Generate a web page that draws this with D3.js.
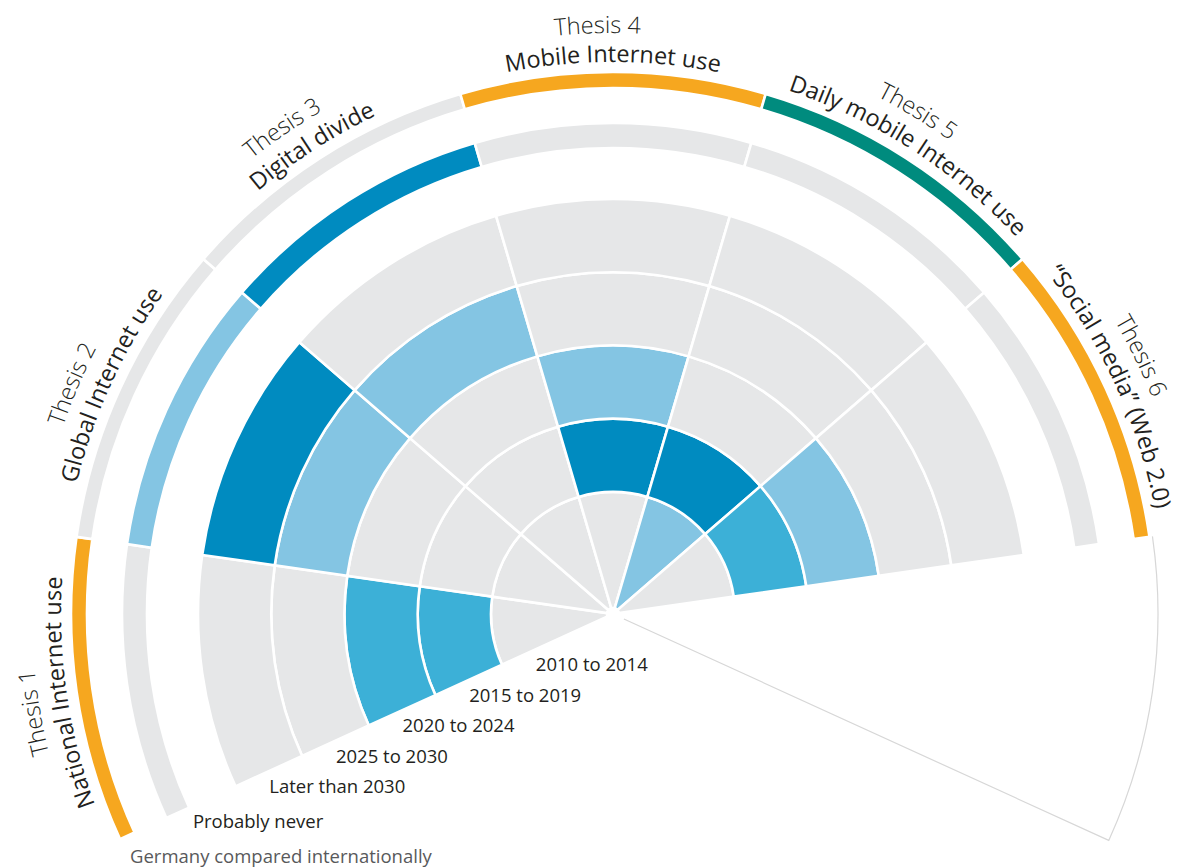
<!DOCTYPE html>
<html><head><meta charset="utf-8">
<script src="https://cdn.jsdelivr.net/npm/d3@7"></script>
<style>
html,body{margin:0;padding:0;background:#fff;}
svg{display:block;}
text{font-family:"Open Sans","Noto Sans",sans-serif;}
</style></head><body>
<svg id="chart" width="1189" height="868"></svg>
<script>
// ---------- data ----------
const thesisNames = ["Thesis 1","Thesis 2","Thesis 3","Thesis 4","Thesis 5","Thesis 6"];
const thesisTitles = ["National Internet use","Global Internet use","Digital divide","Mobile Internet use","Daily mobile Internet use","\u201cSocial media\u201d (Web 2.0)"];
const periods = ["2010 to 2014","2015 to 2019","2020 to 2024","2025 to 2030","Later than 2030","Probably never"];
// expert agreement level per period: 0 = none, 1 = low, 2 = medium, 3 = high
const thesis1 = [0,2,2,0,0,0];
const thesis2 = [0,0,0,1,3,1];
const thesis3 = [0,0,0,1,0,3];
const thesis4 = [0,3,1,0,0,0];
const thesis5 = [1,3,0,0,0,0];
const thesis6 = [0,2,1,0,0,0];
const levels = [thesis1,thesis2,thesis3,thesis4,thesis5,thesis6];
// Germany compared internationally: 0 = not rated, 1 = category A, 2 = category B
const germanyComparison = [1,0,0,1,2,1];
const footnote = "Germany compared internationally";

// ---------- layout ----------
const W = 1189, H = 868;
const cx = 613, cy = 614;
const svg = d3.select("#chart");
const g = svg.append("g").attr("transform", `translate(${cx},${cy})`);

const sector = 2*Math.PI/11;
const a0 = -3.5*sector;
const angle = d3.scaleBand().domain(d3.range(7)).range([a0, a0 + 7*sector]).paddingInner(0).paddingOuter(0);

const rRing = d3.scaleLinear().domain([1,5]).range([122,415]);
function ringInner(k){ return k===0 ? 6 : (k<5 ? rRing(k) : 466); }
function ringOuter(k){ return k<5 ? rRing(k+1) : 491; }
const bandR0 = 526, bandR1 = 542;
const titleR = 552, thesisR = 581, outlineR = 545;

const levelColor = d3.scaleOrdinal().domain([0,1,2,3]).range(["#e6e7e8","#84c5e3","#3cb0d7","#008bc0"]);
const germanyColor = d3.scaleOrdinal().domain([0,1,2]).range(["#e6e7e8","#f6a71f","#008b7e"]);

const arc = d3.arc()
  .innerRadius(d=>d.r0).outerRadius(d=>d.r1)
  .startAngle(d=>d.s).endAngle(d=>d.e);

// cells
const cells = [];
levels.forEach((arr,i)=>{
  arr.forEach((v,k)=>{
    cells.push({s:angle(i), e:angle(i)+angle.bandwidth(), r0:ringInner(k), r1:ringOuter(k), v});
  });
});
g.append("g").selectAll("path").data(cells).join("path")
  .attr("d", arc)
  .attr("fill", d=>levelColor(d.v))
  .attr("stroke","#fff").attr("stroke-width",2.6);

// Germany comparison band
g.append("g").selectAll("path").data(germanyComparison).join("path")
  .attr("d",(v,i)=>arc({s:angle(i), e:angle(i)+angle.bandwidth(), r0:bandR0, r1:bandR1}))
  .attr("fill", v=>germanyColor(v))
  .attr("stroke","#fff").attr("stroke-width",2.6);

// empty seventh sector outline
function pt(a,r){ return [r*Math.sin(a), -r*Math.cos(a)]; }
{
  const s = angle(6), e = angle(6)+angle.bandwidth();
  const p = d3.path();
  const p1 = pt(s,outlineR), p2 = pt(e,outlineR), p3 = pt(e,12);
  p.moveTo(p1[0],p1[1]);
  p.arc(0,0,outlineR, s-Math.PI/2, e-Math.PI/2, false);
  p.lineTo(p3[0],p3[1]);
  g.append("path").attr("d",p.toString()).attr("fill","none")
    .attr("stroke","#d7d7d7").attr("stroke-width",1.2);
}

// curved labels
const defs = svg.append("defs");
function arcPathD(c, r, span){
  const s = c - span, e = c + span;
  const p1 = pt(s,r), p2 = pt(e,r);
  return `M${p1[0]+cx},${p1[1]+cy} A${r},${r} 0 0 1 ${p2[0]+cx},${p2[1]+cy}`;
}
const deg = Math.PI/180;
thesisTitles.forEach((t,i)=>{
  const c = angle(i) + angle.bandwidth()/2;
  defs.append("path").attr("id","tp"+i).attr("d", arcPathD(c, titleR, 60*deg));
  defs.append("path").attr("id","np"+i).attr("d", arcPathD(c - 1.5*deg, thesisR, 60*deg));
  svg.append("text").attr("font-size",23.5).attr("fill","#231f20")
    .append("textPath").attr("href","#tp"+i).attr("startOffset","50%")
    .attr("text-anchor","middle").text(t);
  svg.append("text").attr("font-size",23.5).attr("font-weight",300).attr("fill","#231f20")
    .append("textPath").attr("href","#np"+i).attr("startOffset","50%")
    .attr("text-anchor","middle").text(thesisNames[i]);
});

// period labels along the first boundary
{
  const a = angle(0);
  const u = [Math.sin(a), -Math.cos(a)];
  const n = [-u[1], u[0]]; // perpendicular
  const nn = n[1] < 0 ? [-n[0], -n[1]] : n;
  g.append("g").selectAll("text").data(periods).join("text")
    .attr("x",(d,k)=>{ const r = ringOuter(k) - (k<5?28:20); return r*u[0] + 20*nn[0]; })
    .attr("y",(d,k)=>{ const r = ringOuter(k) - (k<5?28:20); return r*u[1] + 20*nn[1]; })
    .attr("font-size",18.5).attr("fill","#231f20")
    .text(d=>d);
}

// footnote
svg.append("text").attr("x",130).attr("y",863).attr("font-size",18.5)
  .attr("fill","#58595b").text(footnote);
</script>
</body></html>
